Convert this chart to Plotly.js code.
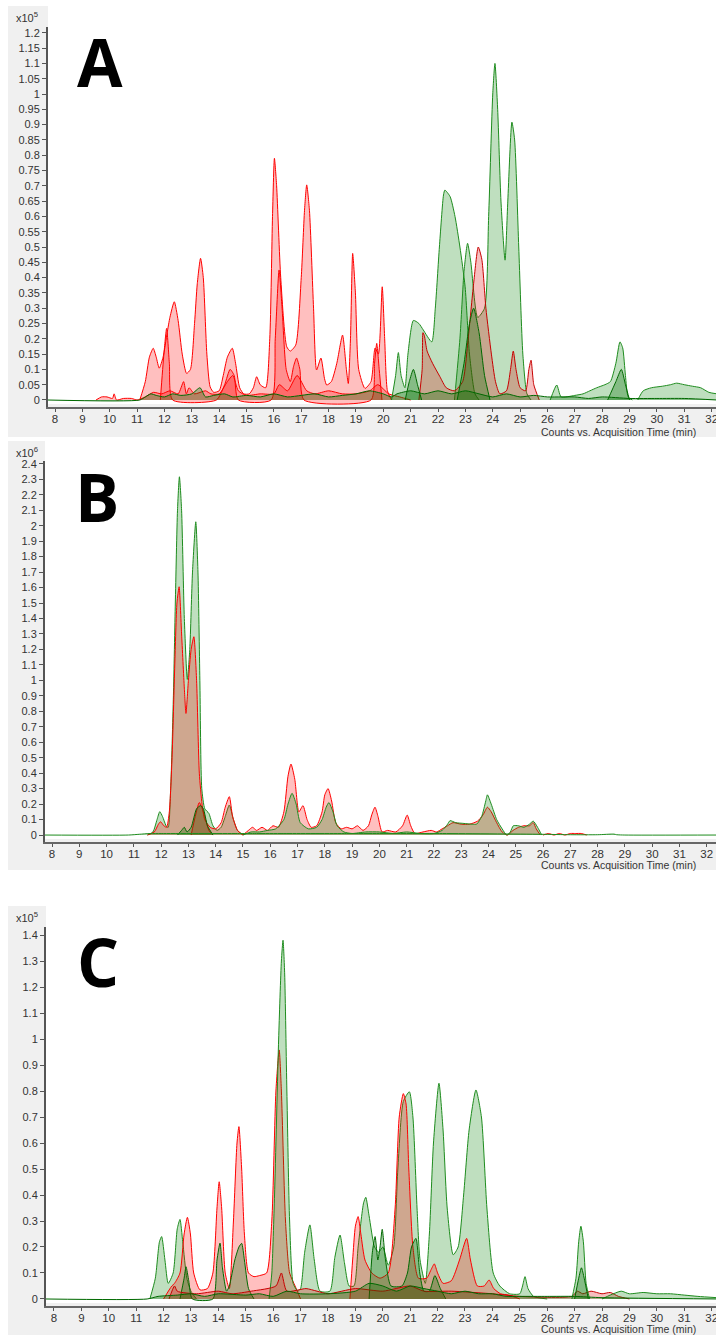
<!DOCTYPE html>
<html>
<head>
<meta charset="utf-8">
<script src="https://cdn.plot.ly/plotly-3.0.1.min.js"></script>
<style>html,body{margin:0;padding:0;background:#fff;}#chart{width:716px;height:1335px;}</style>
</head>
<body>
<div id="chart"></div>
<script>
// ---------- tick labels ----------
const xTicks = [8,9,10,11,12,13,14,15,16,17,18,19,20,21,22,23,24,25,26,27,28,29,30,31,32];
const A_yTicks = [0,0.05,0.1,0.15,0.2,0.25,0.3,0.35,0.4,0.45,0.5,0.55,0.6,0.65,0.7,0.75,0.8,0.85,0.9,0.95,1,1.05,1.1,1.15,1.2];
const B_yTicks = [0,0.1,0.2,0.3,0.4,0.5,0.6,0.7,0.8,0.9,1,1.1,1.2,1.3,1.4,1.5,1.6,1.7,1.8,1.9,2,2.1,2.2,2.3,2.4];
const C_yTicks = [0,0.1,0.2,0.3,0.4,0.5,0.6,0.7,0.8,0.9,1,1.1,1.2,1.3,1.4];
const panelLetters = ["A","B","C"];
const panelExp = ["5","6","5"];
const xTitle = "Counts vs. Acquisition Time (min)";

// ---------- Panel A (x10^5) ----------
const A_red1_x = [11.1,11.3,11.45,11.59,11.7,11.81,11.95,12.1,12.2,12.36,12.5,12.65,12.81,12.95,13.1,13.2,13.32,13.42,13.55,13.67,13.8,14.0,14.15,14.3,14.48,14.6,14.75,14.9,15.1,15.25,15.37,15.5,15.7,15.85,15.95,16.02,16.1,16.25,16.47,16.6,16.8,17.0,17.12,17.2,17.3,17.45,17.56,17.72,17.85,17.93,18.1,18.3,18.51,18.65,18.72,18.8,18.88,18.98,19.1,19.33,19.55,19.7,19.82,19.96,20.05,20.15,20.3];
const A_red1_y = [0,0.06,0.14,0.169,0.14,0.104,0.14,0.22,0.27,0.321,0.26,0.15,0.087,0.1,0.25,0.38,0.463,0.4,0.15,0.043,0.025,0.03,0.08,0.14,0.169,0.12,0.04,0.02,0.02,0.04,0.076,0.05,0.04,0.2,0.6,0.79,0.7,0.4,0.174,0.16,0.18,0.4,0.62,0.703,0.62,0.3,0.098,0.137,0.07,0.049,0.06,0.12,0.212,0.1,0.054,0.2,0.479,0.35,0.1,0.038,0.06,0.17,0.15,0.37,0.2,0.03,0];
const A_red2_x = [11.85,11.98,12.08,12.18,12.3,13.9,14.2,14.4,14.55,14.7,15.9,16.05,16.19,16.3,16.45,16.6,16.72,16.83,16.95,17.1,19.55,19.68,19.76,19.85,19.95];
const A_red2_y = [0,0.15,0.234,0.12,0,0,0.05,0.1,0.08,0,0,0.2,0.425,0.3,0.1,0.06,0.11,0.137,0.1,0,0,0.12,0.185,0.1,0];
const A_red3_x = [9.5,9.7,9.9,10.1,10.16,10.25,10.5,10.8,11.0,11.3,11.6,11.9,12.2,12.5,12.7,12.8,12.9,13.1,13.5,13.7,14.0,14.3,14.5,14.7,15.0,15.5,16.0,16.2,16.5,16.85,17.2,17.5,18.0,18.5,19.0,19.5,19.8,20.2,20.6,21.0];
const A_red3_y = [0,0.01,0.01,0.005,0.02,0,0.005,0.005,0,0.01,0.025,0.02,0.03,0.02,0.06,0.02,0.04,0.02,0.03,0.02,0.02,0.06,0.08,0.03,0.015,0.02,0.02,0.05,0.03,0.08,0.03,0.02,0.03,0.02,0.02,0.03,0.05,0.02,0.01,0];
const A_red4_x = [21.3,21.42,21.45,21.5,21.6,21.8,22.07,22.3,22.6,22.9,23.1,23.3,23.47,23.6,23.75,23.95,24.1,24.26,24.5,24.65,24.75,24.85,25.0,25.2,25.32,25.4,25.5,25.7];
const A_red4_y = [0,0.1,0.22,0.21,0.16,0.12,0.076,0.04,0.03,0.06,0.2,0.38,0.5,0.46,0.3,0.15,0.06,0.02,0.03,0.1,0.16,0.1,0.04,0.03,0.1,0.13,0.05,0];
const A_grn0_x = [7.7,11.1,11.3,11.5,11.7,12.0,12.3,12.6,13.0,13.3,13.5,13.8,14.2,14.5,15.0,15.5,16.0,16.5,17.0,17.5,18.0,18.5,19.0,19.5,20.0,20.3,20.5,21.0,21.5,22.0,22.5,23.0,23.5,24.0,24.5,25.0,25.5,26.0,26.5,27.0,27.5,28.0,29.0,30.0,31.0,32.2];
const A_grn0_y = [0,0,0.01,0.02,0.015,0.01,0.02,0.015,0.02,0.04,0.01,0.015,0.02,0.01,0.015,0.01,0.02,0.01,0.015,0.02,0.01,0.015,0.02,0.03,0.02,0.01,0.02,0.03,0.02,0.03,0.02,0.03,0.02,0.01,0.02,0.01,0.015,0.01,0.01,0.01,0.005,0.01,0.005,0.005,0.005,0];
const A_grn1_x = [20.3,20.45,20.55,20.65,20.79,20.9,21.1,21.3,21.46,21.77,21.9,22.05,22.2,22.25,22.44,22.62,22.8,22.99,23.15,23.35,23.5];
const A_grn1_y = [0,0.08,0.155,0.08,0.04,0.15,0.26,0.25,0.229,0.19,0.3,0.5,0.67,0.686,0.665,0.6,0.5,0.37,0.15,0.02,0];
const A_grn2_x = [22.6,22.8,22.95,23.08,23.2,23.45,23.7,23.85,24.0,24.08,24.18,24.3,24.45,24.55,24.7,24.8,24.95,25.1,25.25,25.4];
const A_grn2_y = [0,0.2,0.42,0.512,0.45,0.27,0.3,0.6,1.0,1.1,0.95,0.65,0.457,0.65,0.908,0.85,0.5,0.15,0.02,0];
const A_grn3_x = [22.7,22.95,23.15,23.3,23.5,23.7,23.9];
const A_grn3_y = [0,0.12,0.25,0.3,0.22,0.08,0];
const A_grn4_x = [20.8,20.95,21.1,21.25,21.4];
const A_grn4_y = [0,0.06,0.1,0.05,0];
const A_grn5_x = [26.1,26.34,26.5,27.0,27.3,27.55,27.8,28.1,28.3,28.5,28.65,28.75,28.85,28.95,29.1];
const A_grn5_y = [0,0.049,0.01,0.015,0.02,0.03,0.04,0.05,0.06,0.12,0.19,0.17,0.08,0.01,0];
const A_grn6_x = [28.2,28.5,28.7,28.85,29.0];
const A_grn6_y = [0,0.06,0.1,0.05,0];
const A_grn7_x = [29.3,29.5,29.8,30.2,30.5,30.72,31.0,31.3,31.6,31.9,32.2];
const A_grn7_y = [0,0.03,0.04,0.045,0.05,0.055,0.05,0.045,0.04,0.025,0.02];

// ---------- Panel B (x10^6) ----------
const B_grn0_x = [7.7,10.8,11.2,11.6,12.0,14.8,15.5,16.5,18.8,20.0,21.5,22.2,25.9,27.0,28.0,28.6,28.7,29.0,32.4];
const B_grn0_y = [0,0,0.005,0.01,0.01,0.01,0.01,0.01,0.01,0.01,0.01,0.01,0.005,0.002,0.002,0.006,0.002,0,0];
const B_grn1_x = [11.5,11.7,11.85,11.95,12.05,12.2,12.26,12.35,12.45,12.52,12.6,12.67,12.75,12.85,12.96,13.05,13.15,13.27,13.35,13.42,13.49,13.6,13.75,13.9,14.05,14.2,14.35,14.5,14.65,14.8,15.0];
const B_grn1_y = [0,0.02,0.1,0.151,0.12,0.054,0.05,0.3,0.9,1.5,2.1,2.316,2.1,1.4,1.006,1.2,1.7,2.025,1.7,1.0,0.3,0.17,0.14,0.06,0.03,0.05,0.12,0.194,0.1,0.03,0];
const B_red1_x = [11.5,11.75,11.9,11.98,12.1,12.2,12.3,12.4,12.5,12.58,12.66,12.75,12.85,12.91,13.0,13.1,13.2,13.3,13.4,13.5,13.6,13.8,14.0,14.2,14.35,14.5,14.62,14.8,15.0];
const B_red1_y = [0,0.02,0.07,0.086,0.06,0.05,0.15,0.5,1.1,1.5,1.605,1.3,0.95,0.786,1.0,1.2,1.282,1.0,0.4,0.2,0.1,0.05,0.04,0.08,0.18,0.248,0.12,0.03,0];
const B_red2_x = [13.1,13.25,13.4,13.55,13.75,13.9];
const B_red2_y = [0,0.12,0.21,0.15,0.03,0];
const B_grn2_x = [12.6,12.75,12.85,12.95,13.1,13.3,13.45,13.55,13.7,13.9];
const B_grn2_y = [0,0.03,0.05,0.02,0.05,0.17,0.19,0.17,0.06,0];
const B_red3_x = [15.0,15.2,15.35,15.5,15.7,15.9,16.1,16.3,16.5,16.65,16.76,16.9,17.05,17.2,17.35,17.5,17.7,17.9,18.0,18.12,18.25,18.4,18.6,18.8,19.0,19.2,19.4,19.6,19.72,19.84,19.95,20.1,20.3,20.6,20.85,21.02,21.15,21.3,21.6,21.9,22.1,22.3,22.5,22.7,23.0,23.3,23.6,23.8,23.96,24.1,24.3,24.5,24.7,24.9,25.1,25.3,25.5,25.64,25.75,25.9];
const B_red3_y = [0,0.03,0.05,0.03,0.05,0.03,0.06,0.05,0.15,0.38,0.459,0.36,0.15,0.19,0.1,0.05,0.06,0.15,0.26,0.3,0.22,0.08,0.04,0.05,0.04,0.06,0.03,0.06,0.13,0.18,0.12,0.02,0.03,0.02,0.06,0.129,0.06,0.01,0.02,0.03,0.02,0.04,0.06,0.08,0.07,0.07,0.09,0.13,0.18,0.15,0.08,0.02,0,0.03,0.05,0.06,0.06,0.08,0.04,0];
const B_grn3_x = [15.0,15.3,15.6,15.9,16.2,16.5,16.65,16.8,16.95,17.1,17.4,17.7,17.9,18.05,18.15,18.3,18.45,18.7,19.0,19.5,20.0,20.5,21.0,21.5,22.0,22.3,22.5,22.59,22.8,23.1,23.4,23.57,23.75,23.9,23.96,24.1,24.3,24.5,24.67,24.8,24.91,25.1,25.3,25.5,25.64,25.8,25.95];
const B_grn3_y = [0,0.02,0.02,0.03,0.04,0.1,0.2,0.27,0.2,0.08,0.04,0.05,0.1,0.18,0.21,0.15,0.06,0.02,0.01,0.02,0.02,0.01,0.02,0.01,0.01,0.03,0.07,0.093,0.08,0.075,0.07,0.071,0.12,0.22,0.26,0.2,0.1,0.04,0,0.02,0.06,0.06,0.05,0.07,0.09,0.05,0];
const B_red4_x = [26.0,26.2,26.4,26.6,26.8,27.0,27.2,27.4,27.6];
const B_red4_y = [0,0.01,0,0.01,0,0.01,0.01,0.01,0];

// ---------- Panel C (x10^5) ----------
const C_grn0_x = [7.7,11.4,11.8,12.5,13.0,13.5,14.0,15.0,15.5,16.0,16.5,17.0,18.0,19.0,19.5,20.0,20.5,21.0,21.5,22.0,22.5,23.0,23.5,24.0,24.5,25.0,26.0,27.0,28.0,32.2];
const C_grn0_y = [0,0,0.01,0.015,0.02,0.01,0.02,0.015,0.02,0.01,0.03,0.02,0.02,0.03,0.06,0.05,0.03,0.05,0.04,0.03,0.02,0.03,0.02,0.02,0.01,0.01,0.01,0.01,0.005,0];
const C_grn1_x = [11.5,11.7,11.85,11.93,12.05,12.17,12.35,12.5,12.6,12.7,12.85,13.0,13.2];
const C_grn1_y = [0,0.08,0.22,0.24,0.15,0.06,0.1,0.27,0.306,0.22,0.08,0.03,0];
const C_red1_x = [12.0,12.3,12.4,12.6,12.75,12.87,12.98,13.1,13.33,13.6,13.8,13.95,14.03,14.12,14.25,14.4,14.55,14.68,14.75,14.85,14.95,15.1,15.3,15.5,15.76,15.95,16.1,16.22,16.3,16.45,16.6,16.8,17.0];
const C_red1_y = [0,0.05,0.06,0.1,0.25,0.314,0.25,0.1,0.035,0.04,0.1,0.35,0.451,0.35,0.1,0.04,0.3,0.6,0.663,0.5,0.25,0.1,0.086,0.09,0.1,0.3,0.8,0.958,0.8,0.3,0.1,0.05,0];
const C_grn2_x = [12.6,12.75,12.82,12.92,13.05,13.8,13.95,14.06,14.15,14.3,14.4,14.6,14.75,14.85,14.95,15.1,15.3];
const C_grn2_y = [0,0.08,0.124,0.07,0,0,0.15,0.215,0.12,0.03,0.05,0.15,0.2,0.214,0.15,0.04,0];
const C_grn3_x = [15.85,15.95,16.05,16.2,16.3,16.36,16.42,16.5,16.6,16.73,16.9,17.0,17.15,17.34,17.5,17.71,18.07,18.25,18.44,18.6,18.77,18.95,19.1,19.3,19.38,19.5,19.7,19.85,20.0,20.2,20.4,20.55,20.75,20.97,21.1,21.25,21.36,21.55,21.7,21.85,22.05,22.2,22.35,22.57,22.75,22.95,23.15,23.4,23.6,23.8,24.03,24.27,24.63,25.0,25.1,25.19,25.3,25.5,26.0];
const C_grn3_y = [0,0.1,0.4,1.0,1.3,1.38,1.25,0.8,0.3,0.06,0.03,0.04,0.18,0.285,0.15,0.03,0.03,0.16,0.246,0.14,0.05,0.05,0.2,0.37,0.391,0.32,0.2,0.18,0.2,0.13,0.2,0.5,0.76,0.797,0.7,0.35,0.15,0.06,0.25,0.6,0.83,0.65,0.35,0.17,0.2,0.4,0.65,0.804,0.7,0.35,0.1,0.05,0.02,0.02,0.05,0.086,0.04,0.01,0];
const C_red2_x = [18.8,18.9,19.0,19.1,19.2,19.35,19.6,19.9,20.2,20.45,20.6,20.75,20.85,20.95,21.1,21.3,21.6,21.75,21.88,22.0,22.2,22.5,22.8,23.06,23.2,23.45,23.7,23.88,24.05,24.3,24.6,25.0];
const C_red2_y = [0,0.15,0.28,0.317,0.25,0.15,0.1,0.08,0.1,0.35,0.7,0.79,0.75,0.5,0.2,0.08,0.08,0.11,0.135,0.1,0.06,0.07,0.15,0.233,0.15,0.05,0.05,0.073,0.04,0.02,0.015,0];
const C_grn4_x = [19.5,19.62,19.72,19.82,19.9,19.98,20.1,20.3,20.7,20.9,21.05,21.21,21.35,21.5,21.7,21.9,22.1,22.3];
const C_grn4_y = [0,0.18,0.24,0.15,0.2,0.268,0.15,0.05,0.05,0.1,0.2,0.233,0.1,0.03,0.03,0.09,0.04,0];
const C_red3_x = [12.2,12.4,12.5,13.2,14.0,14.5,15.2,16.1,16.3,16.5,17.2,17.6,18.0,19.0,20.0,21.0,21.5,22.5,24.0,25.0,26.9,27.1,27.3,27.6,28.0,28.3,28.6,29.0];
const C_red3_y = [0,0.05,0.03,0.02,0.03,0.02,0.03,0.05,0.1,0.03,0.04,0.03,0.02,0.04,0.03,0.05,0.03,0.03,0.02,0.01,0.01,0.03,0.02,0.03,0.02,0.025,0.01,0];
const C_grn5_x = [26.9,27.05,27.15,27.23,27.32,27.42,27.55];
const C_grn5_y = [0,0.08,0.22,0.28,0.22,0.06,0];
const C_grn6_x = [27.0,27.15,27.25,27.35,27.5];
const C_grn6_y = [0,0.08,0.12,0.08,0];
const C_grn7_x = [28.0,28.3,28.7,29.0,29.5,30.0,30.5,31.0,31.5,32.2];
const C_grn7_y = [0,0.015,0.03,0.02,0.025,0.02,0.02,0.015,0.01,0.005];

// ---------- styles ----------
const RED = {line:'rgb(255,0,0)', fill:'rgba(255,0,0,0.25)'};
const DRED = {line:'rgb(200,0,0)', fill:'rgba(220,0,0,0.25)'};
const GRN = {line:'rgb(30,140,30)', fill:'rgba(0,128,0,0.25)'};
const DGRN = {line:'rgb(0,105,0)', fill:'rgba(0,110,0,0.3)'};

function tr(x, y, st, ax) {
  return {type:'scatter', mode:'lines', x:x, y:y, xaxis:'x'+ax, yaxis:'y'+ax,
    fill:'tozeroy', fillcolor:st.fill, line:{color:st.line, width:1, shape:'spline', smoothing:0.6},
    hoverinfo:'skip', showlegend:false};
}

const traces = [
  tr(A_red1_x,A_red1_y,RED,''), tr(A_red2_x,A_red2_y,RED,''), tr(A_red3_x,A_red3_y,RED,''),
  tr(A_grn1_x,A_grn1_y,GRN,''), tr(A_grn2_x,A_grn2_y,GRN,''), tr(A_red4_x,A_red4_y,DRED,''),
  tr(A_grn3_x,A_grn3_y,DGRN,''), tr(A_grn4_x,A_grn4_y,DGRN,''),
  tr(A_grn5_x,A_grn5_y,GRN,''), tr(A_grn6_x,A_grn6_y,DGRN,''), tr(A_grn7_x,A_grn7_y,GRN,''),
  tr(A_grn0_x,A_grn0_y,DGRN,''),

  tr(B_grn1_x,B_grn1_y,GRN,'2'), tr(B_red1_x,B_red1_y,RED,'2'),
  tr(B_red2_x,B_red2_y,RED,'2'), tr(B_grn2_x,B_grn2_y,DGRN,'2'),
  tr(B_red3_x,B_red3_y,RED,'2'), tr(B_grn3_x,B_grn3_y,GRN,'2'), tr(B_red4_x,B_red4_y,RED,'2'),
  tr(B_grn0_x,B_grn0_y,GRN,'2'),

  tr(C_grn1_x,C_grn1_y,GRN,'3'), tr(C_red1_x,C_red1_y,RED,'3'), tr(C_grn2_x,C_grn2_y,DGRN,'3'),
  tr(C_grn3_x,C_grn3_y,GRN,'3'), tr(C_red2_x,C_red2_y,RED,'3'), tr(C_grn4_x,C_grn4_y,DGRN,'3'),
  tr(C_red3_x,C_red3_y,DRED,'3'), tr(C_grn5_x,C_grn5_y,GRN,'3'), tr(C_grn6_x,C_grn6_y,DGRN,'3'),
  tr(C_grn7_x,C_grn7_y,GRN,'3'), tr(C_grn0_x,C_grn0_y,DGRN,'3')
];

// ---------- layout (pixel helpers) ----------
const W = 716, H = 1335;
const px = v => v / W;
const py = v => 1 - v / H;
const FONT = 'Liberation Sans, Arial, sans-serif';

function xax(left, rng) {
  return {domain:[px(left),1], range:rng, tickmode:'array', tickvals:xTicks, ticktext:xTicks.map(String),
    ticks:'outside', ticklen:3, tickcolor:'#555', showline:true, linecolor:'#666', linewidth:2,
    ticklabeloverflow:'allow', ticklabelstandoff:-3, showgrid:false, zeroline:false,
    tickfont:{family:FONT, size:11.5, color:'#333'}, fixedrange:true};
}
function yax(top, bottom, rng, ticks, anchor) {
  return {domain:[py(bottom), py(top)], range:rng, anchor:anchor, tickmode:'array', tickvals:ticks, ticktext:ticks.map(String),
    ticks:'outside', ticklen:4, tickcolor:'#555', showline:true, linecolor:'#555', linewidth:2,
    showgrid:false, zeroline:false, tickfont:{family:FONT, size:11, color:'#333'}, fixedrange:true};
}

function rect(x0,y0,x1,y1,color){
  return {type:'rect', xref:'paper', yref:'paper', x0:px(x0), x1:px(x1), y0:py(y1), y1:py(y0),
    fillcolor:color, line:{width:0}, layer:'below'};
}

const annos = [];
const letterY = [61, 496, 961], letterX = [100, 97, 98];
const expY = [17, 452, 917];
const titleY = [432, 865, 1329];
for (let i = 0; i < 3; i++) {
  annos.push({xref:'paper', yref:'paper', x:px(letterX[i]), y:py(letterY[i]), text:'<b>'+panelLetters[i]+'</b>',
    showarrow:false, xanchor:'center', yanchor:'middle', font:{family:'Open Sans, Liberation Sans, sans-serif', size:66, color:'#000'}});
  annos.push({xref:'paper', yref:'paper', x:px(14), y:py(expY[i]), text:'x10<sup>'+panelExp[i]+'</sup>',
    showarrow:false, xanchor:'left', yanchor:'middle', font:{family:FONT, size:11, color:'#333'}});
  annos.push({xref:'paper', yref:'paper', x:px(618), y:py(titleY[i]), text:xTitle,
    showarrow:false, xanchor:'center', yanchor:'middle', font:{family:FONT, size:10.5, color:'#333'}});
}

const layout = {
  width:W, height:H, autosize:false, margin:{l:0,r:0,t:0,b:0},
  paper_bgcolor:'#ffffff', plot_bgcolor:'rgba(0,0,0,0)', showlegend:false, hovermode:false,
  xaxis: Object.assign(xax(48, [7.744, 32.16]), {anchor:'y'}),
  yaxis: yax(27, 407, [-0.0229, 1.219], A_yTicks, 'x'),
  xaxis2: Object.assign(xax(45, [7.743, 32.34]), {anchor:'y2'}),
  yaxis2: yax(461, 842, [-0.045, 2.418], B_yTicks, 'x2'),
  xaxis3: Object.assign(xax(46, [7.71, 32.16]), {anchor:'y3'}),
  yaxis3: yax(927, 1306, [-0.027, 1.431], C_yTicks, 'x3'),
  shapes: [
    rect(8,6,716,437,'#f0f0f0'), rect(48,0,716,404,'#ffffff'),
    rect(8,441,716,870,'#f0f0f0'), rect(45,438,716,839,'#ffffff'),
    rect(8,906,716,1335,'#f0f0f0'), rect(46,903,716,1303,'#ffffff')
  ],
  annotations: annos
};

Plotly.newPlot('chart', traces, layout, {staticPlot:true, displayModeBar:false});
</script>
</body>
</html>
